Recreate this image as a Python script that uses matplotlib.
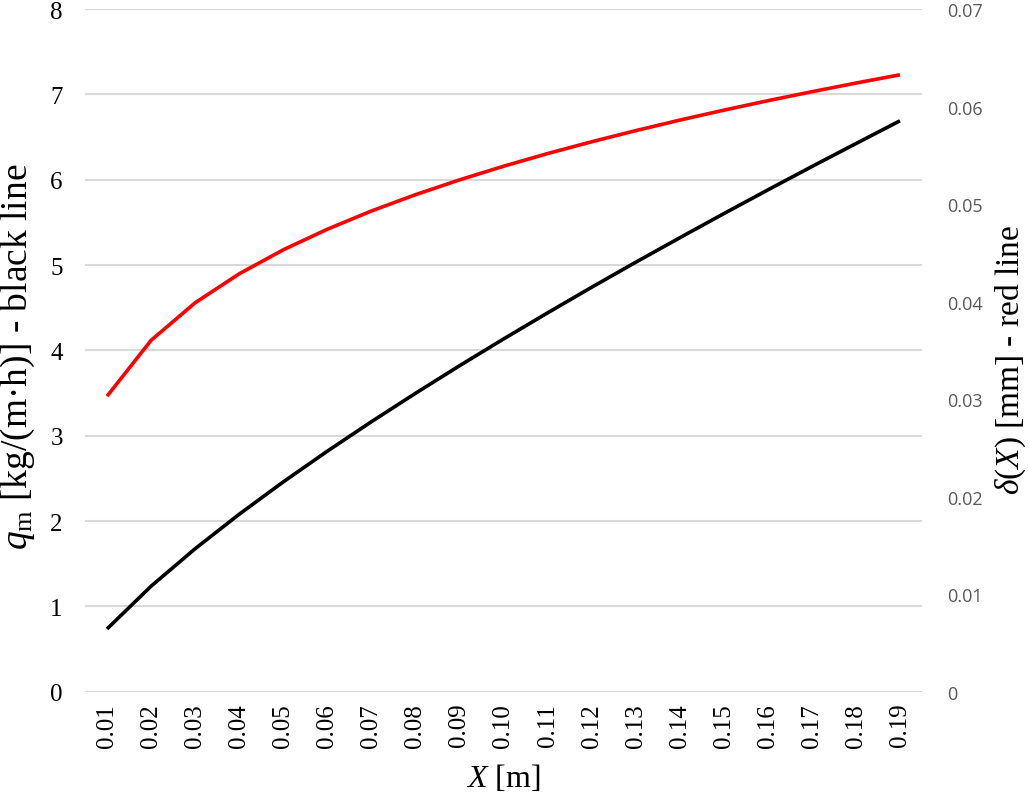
import matplotlib
matplotlib.use("Agg")
import matplotlib.pyplot as plt

# Data
x_labels = ["0.01", "0.02", "0.03", "0.04", "0.05", "0.06", "0.07", "0.08", "0.09", "0.10",
            "0.11", "0.12", "0.13", "0.14", "0.15", "0.16", "0.17", "0.18", "0.19"]
q_m = [0.735, 1.236, 1.675, 2.079, 2.458, 2.818, 3.163, 3.496, 3.819, 4.133,
       4.439, 4.739, 5.032, 5.319, 5.602, 5.880, 6.154, 6.423, 6.690]
delta = [0.0303, 0.03603, 0.03988, 0.04285, 0.04531, 0.04742, 0.04929, 0.05096, 0.05248, 0.05388,
         0.05518, 0.05639, 0.05753, 0.05861, 0.05963, 0.0606, 0.06152, 0.06241, 0.06326]
left_ticks = [0, 1, 2, 3, 4, 5, 6, 7, 8]
right_ticks = [0, 0.01, 0.02, 0.03, 0.04, 0.05, 0.06, 0.07]
right_tick_labels = ["0", "0.01", "0.02", "0.03", "0.04", "0.05", "0.06", "0.07"]

serif = "Liberation Serif"
plt.rcParams["mathtext.fontset"] = "custom"
plt.rcParams["mathtext.rm"] = serif
plt.rcParams["mathtext.it"] = serif + ":italic"

fig = plt.figure(figsize=(10.29, 8.03), dpi=100)
ax = fig.add_axes([0.0826, 0.1374, 0.8134, 0.8501])
ax2 = ax.twinx()

idx = list(range(len(x_labels)))
ax.plot(idx, q_m, color="black", lw=2.6, solid_capstyle="butt", zorder=3)
ax2.plot(idx, delta, color="#ff0000", lw=2.6, solid_capstyle="butt", zorder=3)

ax.set_xlim(-0.5, len(x_labels) - 0.5)
ax.set_ylim(0, 8)
ax2.set_ylim(0, 0.07)

ax.set_yticks(left_ticks)
ax.set_yticklabels([str(t) for t in left_ticks], fontfamily=serif, fontsize=18)
ax2.set_yticks(right_ticks)
ax2.set_yticklabels(right_tick_labels, fontfamily="Open Sans", fontsize=13, color="#595959")

ax.set_xticks(idx)
ax.set_xticklabels(x_labels, rotation=90, fontfamily=serif, fontsize=18)

for a in (ax, ax2):
    for s in a.spines.values():
        s.set_visible(False)
    a.tick_params(length=0)
ax.tick_params(axis="y", pad=16)
ax.tick_params(axis="x", pad=8)
ax2.tick_params(axis="y", pad=18)

ax.yaxis.grid(True, color="#d9d9d9", lw=1.5)
ax.set_axisbelow(True)

ax.set_ylabel(r"$q_{\mathrm{m}}$ [kg/(m·h)] - black line", fontfamily=serif, fontsize=27)
ax.yaxis.set_label_coords(-0.057, 0.492)
ax2.set_ylabel(r"$\delta(X)$ [mm] - red line", fontfamily=serif, fontsize=24)
ax2.yaxis.set_label_coords(1.086, 0.487)
ax.set_xlabel(r"$X$ [m]", fontfamily=serif, fontsize=23, labelpad=11)

fig.savefig("out.png", dpi=100)
